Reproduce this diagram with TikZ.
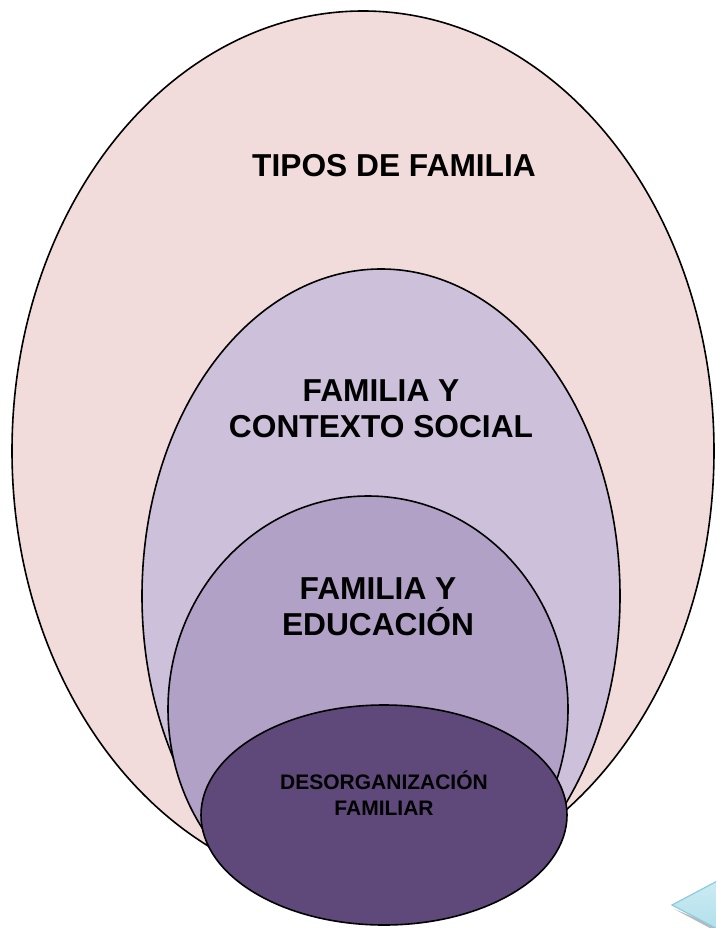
\documentclass[tikz,border=0pt]{standalone}
\usepackage{fontspec}
\setmainfont{Liberation Sans}
\usepackage{tikz}
\definecolor{tipos pink}{HTML}{F2DCDB}
\definecolor{contexto lila}{HTML}{CCC0DA}
\definecolor{educacion lila}{HTML}{B2A1C7}
\definecolor{desorg purple}{HTML}{5F497A}
\definecolor{boton light}{HTML}{D3EEF5}
\definecolor{boton blue}{HTML}{ABDCEA}
\definecolor{boton edge}{HTML}{8CCDE0}
\colorlet{boton shadow}{gray!55}

\begin{document}
\begin{tikzpicture}[x=1pt,y=1pt,
		capa/.style={draw=black,line width=1.6pt},
		titulo/.style={font=\bfseries\fontsize{31.7}{35.5}\selectfont,align=center,anchor=base,inner sep=0pt},
		subtitulo/.style={font=\bfseries\fontsize{21}{26}\selectfont,align=center,anchor=base,inner sep=0pt}]
			\useasboundingbox (0,0) rectangle (715,-928);
			\filldraw[capa, fill=tipos pink] (363,-451) ellipse [x radius=351, y radius=440];
			\filldraw[capa, fill=contexto lila] (381,-596) ellipse [x radius=239, y radius=327];
			\filldraw[capa, fill=educacion lila] (368,-709) ellipse [x radius=200, y radius=213];
			\filldraw[capa, fill=desorg purple] (384,-815) ellipse [x radius=183, y radius=110];
			\node[titulo] (tipos) at (394,-177) {TIPOS DE FAMILIA};
			\node[titulo] (contexto) at (381,-437) {FAMILIA Y\\CONTEXTO SOCIAL};
			\node[titulo] (educacion) at (378,-635) {FAMILIA Y\\EDUCACIÓN};
			\node[subtitulo] (desorg) at (384,-815) {DESORGANIZACIÓN\\FAMILIAR};
			\fill[boton shadow] (674,-909) -- (740,-944) -- (740,-936) -- cycle;
			\filldraw[draw=boton edge, line width=1.2pt, top color=boton light, bottom color=boton blue] (672,-905) -- (740,-869) -- (740,-941) -- cycle;
		\end{tikzpicture}
\end{document}
